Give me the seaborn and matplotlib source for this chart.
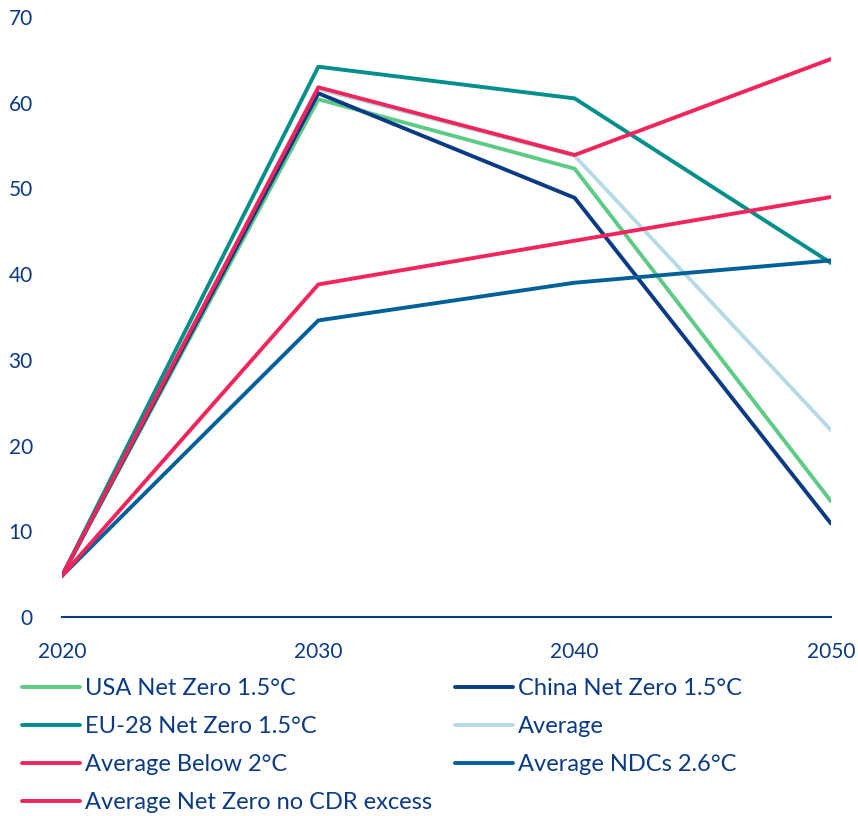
import seaborn as sns
import matplotlib.pyplot as plt
import pandas as pd

years = [2020, 2030, 2040, 2050]

usa_nz = [4.8, 60.4, 52.3, 13.5]
china_nz = [4.8, 61.1, 48.9, 10.9]
eu_nz = [4.8, 64.2, 60.5, 41.3]
average = [4.8, 61.6, 53.8, 21.8]
avg_below2 = [4.8, 38.8, 43.9, 49.0]
avg_ndc = [4.8, 34.6, 39.0, 41.6]
avg_nz_nocdr = [4.8, 61.8, 53.9, 65.1]

serie = {
    "Average": average,
    "USA Net Zero 1.5°C": usa_nz,
    "China Net Zero 1.5°C": china_nz,
    "EU-28 Net Zero 1.5°C": eu_nz,
    "Average NDCs 2.6°C": avg_ndc,
    "Average Below 2°C": avg_below2,
    "Average Net Zero no CDR excess": avg_nz_nocdr,
}

kolory = {
    "USA Net Zero 1.5°C": "#5ccb85",
    "China Net Zero 1.5°C": "#0a3a84",
    "EU-28 Net Zero 1.5°C": "#008f8a",
    "Average": "#b7dbe6",
    "Average Below 2°C": "#f2245c",
    "Average NDCs 2.6°C": "#00619a",
    "Average Net Zero no CDR excess": "#f2245c",
}

# kolejnosc w legendzie (kolumnami)
kolejnosc_legendy = [
    "USA Net Zero 1.5°C",
    "EU-28 Net Zero 1.5°C",
    "Average Below 2°C",
    "Average Net Zero no CDR excess",
    "China Net Zero 1.5°C",
    "Average",
    "Average NDCs 2.6°C",
]

tabelka = pd.DataFrame(
    [(nazwa, r, v) for nazwa, wartosci in serie.items() for r, v in zip(years, wartosci)],
    columns=["seria", "rok", "wartosc"],
)

sns.set_style("white")
plt.rcParams["font.family"] = ["Lato", "DejaVu Sans"]
tekst = "#0a3a84"

fig = plt.figure(figsize=(8.58, 8.16), dpi=100)
ax = fig.add_axes([62 / 858, 1 - 617 / 816, (831 - 62) / 858, (617 - 17) / 816])

sns.lineplot(data=tabelka, x="rok", y="wartosc", hue="seria", hue_order=list(serie.keys()),
             palette=kolory, linewidth=2.8, ax=ax, legend=True)

ax.set_xlim(2020, 2050)
ax.set_ylim(0, 70)
ax.set_xticks(years)
ax.set_yticks(range(0, 71, 10))
ax.set_xlabel("")
ax.set_ylabel("")
for s in ["top", "right", "left"]:
    ax.spines[s].set_visible(False)
ax.spines["bottom"].set_color(tekst)
ax.spines["bottom"].set_linewidth(1.5)
ax.tick_params(axis="both", length=0, labelsize=15, colors=tekst)
ax.tick_params(axis="y", pad=21)
ax.tick_params(axis="x", pad=18)

uchwyty, etykiety = ax.get_legend_handles_labels()
mapa = dict(zip(etykiety, uchwyty))
ax.get_legend().remove()
fig.legend([mapa[n] for n in kolejnosc_legendy], kolejnosc_legendy, ncol=2,
           loc="upper left", bbox_to_anchor=(22 / 858, 1 - 678 / 816), frameon=False,
           borderaxespad=0, borderpad=0,
           fontsize=17, labelcolor=tekst, handlelength=2.45, handletextpad=0.2,
           columnspacing=1.0, labelspacing=0.72)

fig.savefig("out.png", dpi=100)
